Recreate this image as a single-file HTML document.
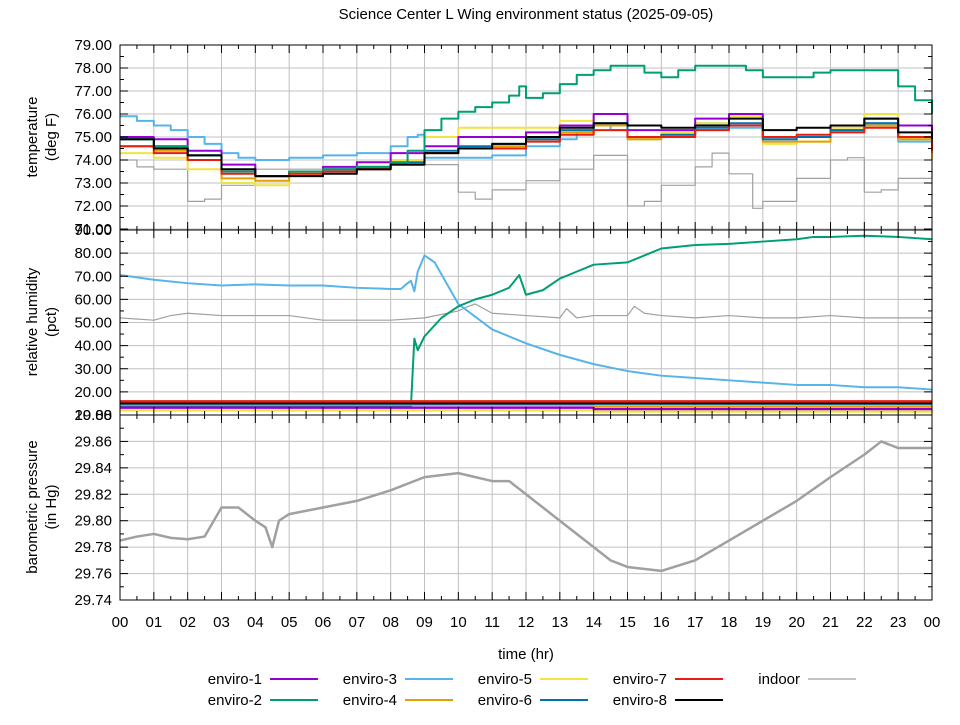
<!DOCTYPE html>
<html><head><meta charset="utf-8"><style>
body{margin:0;background:#fff;}
svg{font-family:"Liberation Sans","DejaVu Sans",sans-serif;}
</style></head><body>
<svg id="c" width="960" height="720" xmlns="http://www.w3.org/2000/svg">
<rect width="960" height="720" fill="#fff"/>
<text x="526" y="19" font-size="15" text-anchor="middle">Science Center L Wing environment status (2025-09-05)</text>
<g id="grid"></g><g id="series"></g><g id="axes"></g>
<text x="526" y="659" font-size="15" text-anchor="middle">time (hr)</text>
<text transform="translate(37,137) rotate(-90)" font-size="15" text-anchor="middle"><tspan x="0" dy="0">temperature</tspan><tspan x="0" dy="19">(deg F)</tspan></text>
<text transform="translate(37,322) rotate(-90)" font-size="15" text-anchor="middle"><tspan x="0" dy="0">relative humidity</tspan><tspan x="0" dy="19">(pct)</tspan></text>
<text transform="translate(37,507) rotate(-90)" font-size="15" text-anchor="middle"><tspan x="0" dy="0">barometric pressure</tspan><tspan x="0" dy="19">(in Hg)</tspan></text>
<g id="legend"></g>
</svg>
<script>
const xTicks=["00","01","02","03","04","05","06","07","08","09","10","11","12","13","14","15","16","17","18","19","20","21","22","23","00"];
const tempTicks=[79,78,77,76,75,74,73,72,71];
const humTicks=[90,80,70,60,50,40,30,20,10];
const presTicks=[29.88,29.86,29.84,29.82,29.80,29.78,29.76,29.74];
const hrs=[0,1,2,3,4,5,6,7,8,9,10,11,12,13,14,15,16,17,18,19,20,21,22,23,24];
const tE1=[75.0,74.9,74.4,73.8,73.3,73.5,73.7,73.9,74.3,74.6,75.0,75.0,75.2,75.5,76.0,75.3,75.3,75.8,76.0,75.0,75.0,75.5,75.8,75.5,74.6];
const tE2h=[0,1,2,3,4,5,6,7,8,8.5,9,9.5,10,10.5,11,11.5,11.8,12,12.5,13,13.5,14,14.5,15,15.5,16,16.5,17,18,18.5,19,20,20.5,21,22,22.5,23,23.5,24];
const tE2=[74.9,74.6,74.2,73.5,73.3,73.5,73.6,73.7,73.9,74.4,75.3,75.8,76.1,76.3,76.5,76.8,77.2,76.7,76.9,77.3,77.7,77.9,78.1,78.1,77.8,77.6,77.9,78.1,78.1,77.9,77.6,77.6,77.8,77.9,77.9,77.9,77.2,76.6,76.0];
const tE3h=[0,0.5,1,1.5,2,2.5,3,3.5,4,5,6,7,8,8.5,8.8,9,10,11,12,13,13.5,14,14.5,15,16,17,18,19,20,21,22,23,24];
const tE3=[75.9,75.7,75.5,75.3,75.0,74.7,74.3,74.1,74.0,74.1,74.2,74.3,74.6,75.0,75.1,74.1,74.1,74.2,74.6,74.9,75.2,75.5,75.3,74.9,75.1,75.6,75.4,74.8,75.0,75.3,75.6,74.8,74.2];
const tE4=[74.6,74.4,74.0,73.2,73.1,73.4,73.5,73.6,73.8,74.3,74.5,74.6,74.9,75.2,75.5,74.9,75.0,75.3,75.5,74.8,74.8,75.3,75.5,74.9,74.3];
const tE5=[74.3,74.1,73.6,73.0,72.9,73.3,73.5,73.7,74.0,75.0,75.4,75.4,75.4,75.7,76.0,74.9,75.2,75.6,75.9,74.7,74.8,75.4,76.0,74.9,74.0];
const tE6=[74.9,74.6,74.2,73.5,73.3,73.5,73.6,73.7,73.9,74.4,74.6,74.7,74.9,75.3,75.6,75.0,75.1,75.4,75.6,74.9,75.0,75.3,75.6,75.0,74.6];
const tE7=[74.6,74.3,74.0,73.4,73.3,73.4,73.5,73.6,73.8,74.3,74.5,74.5,74.8,75.1,75.3,75.0,75.0,75.3,75.5,75.0,75.1,75.2,75.4,75.0,74.4];
const tE8=[74.9,74.5,74.2,73.6,73.3,73.3,73.4,73.6,73.8,74.3,74.5,74.7,75.0,75.4,75.6,75.5,75.4,75.5,75.8,75.3,75.4,75.5,75.8,75.2,74.9];
const tInH=[0,0.5,1,2,2.5,3,4,5,6,7,8,9,10,10.5,11,12,13,14,15,15.5,16,17,17.5,18,18.7,19,20,21,21.5,22,22.5,23,24];
const tIn=[74.0,73.7,73.6,72.2,72.3,72.9,73.6,73.6,73.6,73.7,73.8,73.8,72.6,72.3,72.7,73.1,73.6,74.2,72.0,72.2,72.9,73.7,74.3,73.4,71.9,72.2,73.2,74.0,74.1,72.6,72.7,73.2,73.5];
const hE2h=[0,8.6,8.7,8.8,9,9.5,10,10.5,11,11.5,11.8,12,12.5,13,13.5,14,15,15.5,16,17,18,19,20,20.5,21,22,23,24];
const hE2=[14,14,43,38,44,52,57,60,62,65,70.5,62,64,69,72,75,76,79,82,83.5,84,85,86,87,87,87.5,87,86];
const hE3h=[0,1,2,3,4,5,6,7,8,8.3,8.5,8.6,8.7,8.8,9,9.3,10,11,12,13,14,15,16,17,18,19,20,21,22,23,24];
const hE3=[70.5,68.5,67,66,66.5,66,66,65,64.5,64.5,67,68,63.5,72,79,76,58,47,41,36,32,29,27,26,25,24,23,23,22,22,21];
const hInH=[0,1,1.5,2,3,5,6,8,9,10,10.3,10.5,11,12,13,13.2,13.5,14,15,15.2,15.5,16,17,18,19,20,21,22,23,24];
const hIn=[52,51,53,54,53,53,51,51,52,55,57,58,54,53,52,56,52,53,53,57,54,53,52,53,52,52,53,52,52,52];
const hLowH=[0,8.5,14,24];
const hE1=[13.2,13.2,12.6,12.6];
const hE4=[14.4,14.4,13.8,13.8];
const hE5=[12.0,12.0,11.5,12.0];
const hE6=[14.8,14.8,14.8,14.8];
const hE7=[15.9,15.9,15.9,15.9];
const hE8=[15.1,15.1,15.1,15.1];
const pH=[0,0.5,1,1.5,2,2.5,3,3.5,4,4.3,4.5,4.7,5,6,7,8,9,10,11,11.5,12,13,14,14.5,15,16,17,18,19,20,21,22,22.5,23,24];
const pIn=[29.785,29.788,29.79,29.787,29.786,29.788,29.81,29.81,29.80,29.795,29.78,29.80,29.805,29.81,29.815,29.823,29.833,29.836,29.83,29.83,29.82,29.80,29.78,29.77,29.765,29.762,29.77,29.785,29.80,29.815,29.833,29.85,29.86,29.855,29.855];

const NS="http://www.w3.org/2000/svg";
const X0=120,X1=932;
const xs=h=>X0+(X1-X0)*h/24;
const yT=v=>45+(79-v)*(184/8);
const yH=v=>230+(90-v)*(185/80);
const yP=v=>415+(29.88-v)*(185/0.14);
const panels=[{t:45,b:230,ticks:tempTicks,f:yT,fmt:v=>v.toFixed(2),minor:0.5,name:"temperature"},
{t:230,b:415,ticks:humTicks,f:yH,fmt:v=>v.toFixed(2),minor:5,name:"humidity"},
{t:415,b:600,ticks:presTicks,f:yP,fmt:v=>v.toFixed(2),minor:0.01,name:"pressure"}];
const grid=document.getElementById('grid'),axes=document.getElementById('axes'),ser=document.getElementById('series');
function mk(tag,at,parent){const e=document.createElementNS(NS,tag);for(const k in at)e.setAttribute(k,at[k]);parent.appendChild(e);return e;}
panels.forEach((p,pi)=>{
  for(let i=0;i<xTicks.length;i++){
    const l=mk('line',{x1:xs(i),x2:xs(i),y1:p.t,y2:p.b,stroke:'#c0c0c0','stroke-width':1},grid);
    
    
  }
  p.ticks.forEach(v=>{
    const y=p.f(v);
    const l=mk('line',{x1:X0,x2:X1,y1:y,y2:y,stroke:'#c0c0c0','stroke-width':1},grid);
    
    
    mk('line',{x1:X0,x2:X0+8,y1:y,y2:y,stroke:'#000'},axes);
    mk('line',{x1:X1,x2:X1-8,y1:y,y2:y,stroke:'#000'},axes);
    const my=p.f(v-p.minor);
    if(my<p.b-1){mk('line',{x1:X0,x2:X0+4,y1:my,y2:my,stroke:'#000'},axes);mk('line',{x1:X1,x2:X1-4,y1:my,y2:my,stroke:'#000'},axes);}
    const t=mk('text',{x:112,y:y+5,'font-size':15,'text-anchor':'end'},axes);
    t.textContent=p.fmt(v);
    
    
  });
  for(let i=0;i<=48;i++){
    const x=xs(i/2),len=i%2?4:8;
    mk('line',{x1:x,x2:x,y1:p.b,y2:p.b-len,stroke:'#000'},axes);
    mk('line',{x1:x,x2:x,y1:p.t,y2:p.t+len,stroke:'#000'},axes);
  }
  const r=mk('rect',{x:X0,y:p.t,width:X1-X0,height:p.b-p.t,fill:'none',stroke:'#000','stroke-width':1},axes);
  
  
});
xTicks.forEach((lab,i)=>{
  const t=mk('text',{x:xs(i),y:627,'font-size':15,'text-anchor':'middle'},axes);
  t.textContent=lab;
  
  
});
function path(hx,vals,f,step){let d='';for(let i=0;i<hx.length;i++){const x=xs(hx[i]),y=f(vals[i]);if(i===0)d='M'+x+','+y;else if(step)d+=' H'+x+' V'+y;else d+=' L'+x+','+y;}return d;}
function draw(hx,vals,f,col,w,step,name){
  const p=mk('path',{d:path(hx,vals,f,step),fill:'none',stroke:col,'stroke-width':w,'stroke-linejoin':'round'},ser);
  
  
}
const C={e1:'#9400d3',e2:'#009e73',e3:'#56b4e9',e4:'#e69f00',e5:'#f0e442',e6:'#0072b2',e7:'#e51e10',e8:'#000000',in:'#a0a0a0'};
draw(tInH,tIn,yT,C.in,1.2,true,'indoor-temperature-line');
draw(tE3h,tE3,yT,C.e3,2,true,'enviro-3-temperature-line');
draw(hrs,tE5,yT,C.e5,2,true,'enviro-5-temperature-line');
draw(hrs,tE4,yT,C.e4,2,true,'enviro-4-temperature-line');
draw(hrs,tE1,yT,C.e1,2,true,'enviro-1-temperature-line');
draw(hrs,tE6,yT,C.e6,2,true,'enviro-6-temperature-line');
draw(tE2h,tE2,yT,C.e2,2,true,'enviro-2-temperature-line');
draw(hrs,tE7,yT,C.e7,2,true,'enviro-7-temperature-line');
draw(hrs,tE8,yT,C.e8,2,true,'enviro-8-temperature-line');
draw(hInH,hIn,yH,C.in,1.2,false,'indoor-humidity-line');
draw(hE3h,hE3,yH,C.e3,2,false,'enviro-3-humidity-line');
draw(hE2h,hE2,yH,C.e2,2,false,'enviro-2-humidity-line');
draw(hLowH,hE5,yH,C.e5,2.5,true,'enviro-5-humidity-line');
draw(hLowH,hE1,yH,C.e1,2.5,true,'enviro-1-humidity-line');
draw(hLowH,hE4,yH,C.e4,2,true,'enviro-4-humidity-line');
draw(hLowH,hE6,yH,C.e6,2,true,'enviro-6-humidity-line');
draw(hLowH,hE8,yH,C.e8,2,true,'enviro-8-humidity-line');
draw(hLowH,hE7,yH,C.e7,2.5,true,'enviro-7-humidity-line');
draw(pH,pIn,yP,C.in,2.5,false,'indoor-pressure-line');
const leg=document.getElementById('legend');
const legNames=["enviro-1","enviro-2","enviro-3","enviro-4","enviro-5","enviro-6","enviro-7","enviro-8","indoor"];
const legCols=[C.e1,C.e2,C.e3,C.e4,C.e5,C.e6,C.e7,C.e8,C.in];
legNames.forEach((n,i)=>{
  const col=Math.floor(i/2),row=i%2;
  const tx=262+col*135,ty=684+row*21;
  const g=mk('g',{},leg);
  
  
  const t=mk('text',{x:(i===8?800:tx),y:ty,'font-size':15,'text-anchor':'end'},g);
  t.textContent=n;
  const lx=(i===8?808:tx+8);
  mk('line',{x1:lx,x2:lx+48,y1:ty-5,y2:ty-5,stroke:legCols[i],'stroke-width':i===8?1.2:2},g);
});
</script>
</body></html>
